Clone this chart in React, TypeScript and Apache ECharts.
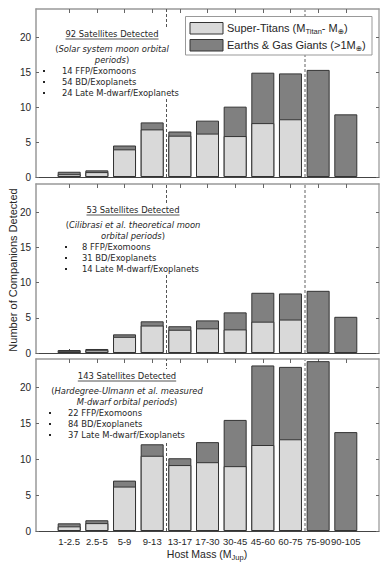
import React, { useEffect, useRef } from "react";
import * as echarts from "echarts";

// ---------- data ----------
const categories = ["1-2.5", "2.5-5", "5-9", "9-13", "13-17", "17-30", "30-45", "45-60", "60-75", "75-90", "90-105"];

// Panel 1: Solar system moon orbital periods
const solarSuperTitans = [0.4, 0.7, 3.95, 6.8, 5.9, 6.2, 5.85, 7.7, 8.25, 0, 0];
const solarEarthsGiants = [0.35, 0.25, 0.55, 1.0, 0.6, 1.85, 4.2, 7.2, 6.55, 15.3, 8.95];

// Panel 2: Cilibrasi et al. theoretical moon orbital periods
const cilibrasiSuperTitans = [0.25, 0.38, 2.3, 3.9, 3.3, 3.5, 3.35, 4.45, 4.75, 0, 0];
const cilibrasiEarthsGiants = [0.17, 0.19, 0.35, 0.6, 0.5, 1.13, 2.42, 4.1, 3.71, 8.83, 5.14];

// Panel 3: Hardegree-Ulmann et al. measured M-dwarf orbital periods
const hardegreeSuperTitans = [0.65, 1.1, 6.2, 10.5, 9.2, 9.6, 9.05, 12.0, 12.8, 0, 0];
const hardegreeEarthsGiants = [0.42, 0.4, 0.83, 1.6, 0.95, 2.8, 6.45, 11.1, 10.1, 23.7, 13.8];

const yTickValues = [0, 5, 10, 15, 20];
const dividerPositions = [4.5, 9.5];

const panelTitles = ["92 Satellites Detected", "53 Satellites Detected", "143 Satellites Detected"];
const panelSourceLines = [
  [[{ t: "(" }, { t: "Solar system moon orbital", i: true }], [{ t: "periods", i: true }, { t: ")" }]],
  [[{ t: "(" }, { t: "Cilibrasi et al. theoretical moon", i: true }], [{ t: "orbital periods", i: true }, { t: ")" }]],
  [[{ t: "(" }, { t: "Hardegree-Ulmann et al. measured", i: true }], [{ t: "M-dwarf orbital periods", i: true }, { t: ")" }]],
];
const panelBullets = [
  ["14 FFP/Exomoons", "54 BD/Exoplanets", "24 Late M-dwarf/Exoplanets"],
  ["8 FFP/Exomoons", "31 BD/Exoplanets", "14 Late M-dwarf/Exoplanets"],
  ["22 FFP/Exomoons", "84 BD/Exoplanets", "37 Late M-dwarf/Exoplanets"],
];

// ---------- styling ----------
const FONT = "'Liberation Sans', Arial, 'DejaVu Sans', sans-serif";
const NOTE_FONT = "'DejaVu Sans', Verdana, sans-serif";
const NOTE_SIZE = 8.4;
const LIGHT = "#d9d9d9";
const DARK = "#808080";
const EDGE = "#333333";
const TXT = "#262626";
const ZTOP = 100;

let measureCtx: CanvasRenderingContext2D | null = null;
function tw(text: string, size: number, family: string, italic = false) {
  if (!measureCtx) measureCtx = document.createElement("canvas").getContext("2d");
  measureCtx!.font = `${italic ? "italic " : ""}${size}px ${family}`;
  return measureCtx!.measureText(text).width;
}

type Seg = { t: string; i?: boolean; sub?: boolean };
function segText(
  segs: Seg[],
  x: number,
  y: number,
  align: "left" | "center",
  size: number,
  subSize: number,
  family: string = FONT
) {
  const widths = segs.map((s) => tw(s.t, s.sub ? subSize : size, family, !!s.i));
  const total = widths.reduce((a, b) => a + b, 0);
  const start = align === "center" ? x - total / 2 : x;
  let cur = start;
  const els: any[] = [];
  segs.forEach((s, k) => {
    els.push({
      type: "text",
      x: cur,
      y: s.sub ? y + 3.5 : y,
      z: ZTOP + 2,
      silent: true,
      style: {
        text: s.t,
        fontSize: s.sub ? subSize : size,
        fontFamily: family,
        fontStyle: s.i ? "italic" : "normal",
        fill: TXT,
        align: "left",
        verticalAlign: "middle",
      },
    });
    cur += widths[k];
  });
  return { els, total, left: start, right: start + total };
}

const grids = [
  { left: 36, top: 9, width: 343, height: 168 },
  { left: 36, top: 184, width: 343, height: 169 },
  { left: 36, top: 359, width: 343, height: 172 },
];

const panelData = [
  [solarSuperTitans, solarEarthsGiants],
  [cilibrasiSuperTitans, cilibrasiEarthsGiants],
  [hardegreeSuperTitans, hardegreeEarthsGiants],
];

// annotation anchors (layout)
const noteLayout = [
  { cx: 112, y0: 34, bx: 44, tx: 62 },
  { cx: 133, y0: 210, bx: 66, tx: 82 },
  { cx: 127, y0: 376, bx: 50, tx: 68 },
];

function buildOption() {
  const xTicks = categories.map((_, k) => k + 1);
  const xAxis: any[] = [];
  const yAxis: any[] = [];
  const series: any[] = [];

  grids.forEach((_, i) => {
    xAxis.push({
      type: "value",
      gridIndex: i,
      min: -0.2,
      max: 12.2,
      position: "bottom",
      axisLine: { show: true, onZero: false, lineStyle: { color: "#444", width: 1 } },
      axisTick: { show: true, inside: true, length: 4, customValues: xTicks, lineStyle: { color: "#444" } },
      axisLabel: {
        show: i === 2,
        customValues: xTicks,
        formatter: (v: number) => categories[Math.round(v) - 1] ?? "",
        fontSize: 9.5,
        fontFamily: FONT,
        color: TXT,
        margin: 5,
      },
      splitLine: { show: false },
    });
    xAxis.push({
      type: "value",
      gridIndex: i,
      min: -0.2,
      max: 12.2,
      position: "top",
      axisLine: { show: true, onZero: false, lineStyle: { color: "#999", width: 1.5 } },
      axisTick: { show: true, inside: true, length: 4, customValues: xTicks, lineStyle: { color: "#666" } },
      axisLabel: { show: false },
      splitLine: { show: false },
    });
    yAxis.push({
      type: "value",
      gridIndex: i,
      min: 0,
      max: 24,
      interval: 5,
      position: "left",
      axisLine: { show: true, onZero: false, lineStyle: { color: "#999", width: 1.5 } },
      axisTick: { show: true, inside: true, length: 3, customValues: yTickValues, lineStyle: { color: "#666" } },
      axisLabel: { show: true, customValues: yTickValues, fontSize: 10, fontFamily: FONT, color: TXT, margin: 5 },
      splitLine: { show: false },
    });
    yAxis.push({
      type: "value",
      gridIndex: i,
      min: 0,
      max: 24,
      interval: 5,
      position: "right",
      axisLine: { show: true, onZero: false, lineStyle: { color: "#aaa", width: 1.5 } },
      axisTick: { show: true, inside: true, length: 3, customValues: yTickValues, lineStyle: { color: "#666" } },
      axisLabel: { show: false },
      splitLine: { show: false },
    });

    const [light, dark] = panelData[i];
    const totals = light.map((v, k) => v + dark[k]);
    series.push({
      type: "bar",
      name: "Earths & Gas Giants",
      xAxisIndex: 2 * i,
      yAxisIndex: 2 * i,
      data: totals.map((v, k) => [k + 1, v]),
      barWidth: 23,
      barGap: "-100%",
      itemStyle: { color: DARK, borderColor: EDGE, borderWidth: 1 },
      silent: true,
    });
    series.push({
      type: "bar",
      name: "Super-Titans",
      xAxisIndex: 2 * i,
      yAxisIndex: 2 * i,
      data: light.map((v, k) => [k + 1, v]).filter((d) => d[1] > 0),
      barWidth: 23,
      barGap: "-100%",
      itemStyle: { color: LIGHT, borderColor: EDGE, borderWidth: 1 },
      silent: true,
      markLine: {
        silent: true,
        symbol: ["none", "none"],
        label: { show: false },
        data: [
          { xAxis: dividerPositions[0], lineStyle: { color: "#555", type: [3, 2], width: 1 } },
          { xAxis: dividerPositions[1], lineStyle: { color: "#b0b0b0", type: [3, 2], width: 2 } },
        ],
      },
    });
  });

  // graphic annotations
  const graphic: any[] = [];
  noteLayout.forEach((L, i) => {
    const parts: any[] = [];
    let right = 0;
    const title = segText([{ t: panelTitles[i] }], L.cx, L.y0, "center", NOTE_SIZE, 7, NOTE_FONT);
    parts.push(...title.els);
    right = Math.max(right, title.right);
    parts.push({
      type: "line",
      silent: true,
      z: ZTOP + 2,
      shape: { x1: title.left, y1: L.y0 + 5, x2: title.right, y2: L.y0 + 5 },
      style: { stroke: TXT, lineWidth: 0.8 },
    });
    const [l2, l3] = panelSourceLines[i];
    const t2 = segText(l2 as Seg[], L.cx, L.y0 + 14.5, "center", NOTE_SIZE, 7, NOTE_FONT);
    const t3 = segText(l3 as Seg[], L.cx, L.y0 + 26, "center", NOTE_SIZE, 7, NOTE_FONT);
    parts.push(...t2.els, ...t3.els);
    right = Math.max(right, t2.right, t3.right);
    let lastY = L.y0;
    panelBullets[i].forEach((b, k) => {
      const y = L.y0 + 37 + 11 * k;
      lastY = y;
      parts.push({
        type: "rect",
        silent: true,
        z: ZTOP + 2,
        shape: { x: L.bx - 1, y: y - 1, width: 2, height: 2 },
        style: { fill: TXT },
      });
      const bt = segText([{ t: b }], L.tx, y, "left", NOTE_SIZE, 7, NOTE_FONT);
      parts.push(...bt.els);
      right = Math.max(right, bt.right);
    });
    // white text-box background (covers the divider line like the original)
    graphic.push({
      type: "rect",
      silent: true,
      z: ZTOP + 1,
      shape: { x: L.bx - 4, y: L.y0 - 7, width: right + 3 - (L.bx - 4), height: lastY + 6 - (L.y0 - 7) },
      style: { fill: "#fff" },
    });
    graphic.push(...parts);
  });

  // legend
  graphic.push({
    type: "rect",
    silent: true,
    z: ZTOP + 1,
    shape: { x: 185.5, y: 16.5, width: 186.5, height: 38.5 },
    style: { fill: "#fff", stroke: "#999", lineWidth: 1 },
  });
  graphic.push({
    type: "rect",
    silent: true,
    z: ZTOP + 2,
    shape: { x: 190, y: 22.5, width: 33, height: 11.5 },
    style: { fill: LIGHT, stroke: EDGE, lineWidth: 1 },
  });
  graphic.push({
    type: "rect",
    silent: true,
    z: ZTOP + 2,
    shape: { x: 190, y: 39.5, width: 33, height: 11.5 },
    style: { fill: DARK, stroke: EDGE, lineWidth: 1 },
  });
  graphic.push(
    ...segText(
      [{ t: "Super-Titans (M" }, { t: "Titan", sub: true }, { t: "- M" }, { t: "⊕", sub: true }, { t: ")" }],
      227,
      27.5,
      "left",
      11,
      7.5
    ).els
  );
  graphic.push(
    ...segText([{ t: "Earths & Gas Giants (>1M" }, { t: "⊕", sub: true }, { t: ")" }], 227, 45, "left", 11, 7.5).els
  );

  // axis titles
  graphic.push({
    type: "text",
    silent: true,
    x: 13,
    y: 270,
    rotation: Math.PI / 2,
    style: {
      text: "Number of Companions Detected",
      fontSize: 11,
      fontFamily: FONT,
      fill: TXT,
      align: "center",
      verticalAlign: "middle",
    },
  });
  graphic.push(...segText([{ t: "Host Mass (M" }, { t: "Jup", sub: true }, { t: ")" }], 207, 554, "center", 10.5, 7.5).els);

  return {
    animation: false,
    backgroundColor: "#fff",
    grid: grids,
    xAxis,
    yAxis,
    series,
    graphic,
  };
}

export default function App() {
  const ref = useRef<HTMLDivElement>(null);
  useEffect(() => {
    const chart = echarts.init(ref.current!, null, { renderer: "svg" });
    chart.setOption(buildOption() as any);
    return () => chart.dispose();
  }, []);
  return <div ref={ref} style={{ position: "fixed", left: 0, top: 0, width: 390, height: 564 }} />;
}
